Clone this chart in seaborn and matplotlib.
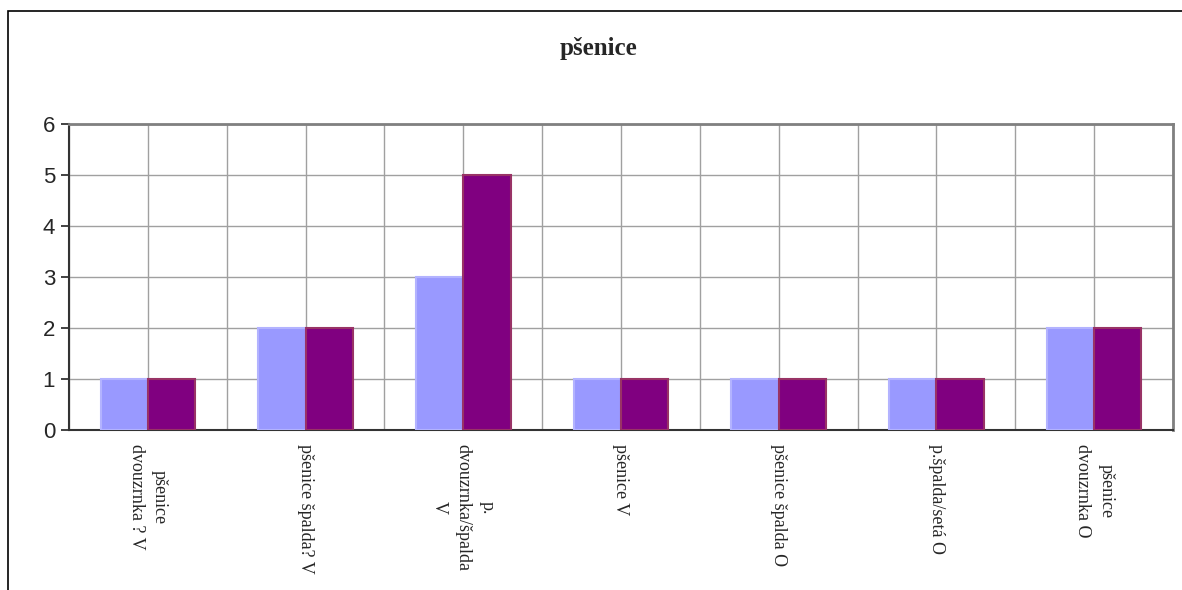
import matplotlib
matplotlib.use("Agg")
import matplotlib.pyplot as plt
from matplotlib.patches import Rectangle
from matplotlib.ticker import FixedLocator
import seaborn as sns
import pandas as pd

categories = [
    "pšenice\ndvouzrnka ? V",
    "pšenice špalda? V",
    "p.\ndvouzrnka/špalda\nV",
    "pšenice V",
    "pšenice špalda O",
    "p.špalda/setá O",
    "pšenice\ndvouzrnka O",
]
series_names = ["A", "B"]
series_a = [1, 2, 3, 1, 1, 1, 2]
series_b = [1, 2, 5, 1, 1, 1, 2]
y_ticks = [0, 1, 2, 3, 4, 5, 6]

df = pd.DataFrame({
    "cat": categories * 2,
    "series": [series_names[0]] * len(categories) + [series_names[1]] * len(categories),
    "value": series_a + series_b,
})

sns.set_style("white")
fig = plt.figure(figsize=(11.82, 5.9), dpi=100)
ax = fig.add_axes([69 / 1182, 1 - 430 / 590, (1173 - 69) / 1182, (430 - 124) / 590])

fills = {"A": "#9999FF", "B": "#800080"}
edges = {"A": "#B3B3FF", "B": "#993366"}
sns.barplot(data=df, x="cat", y="value", hue="series", order=categories,
            hue_order=series_names, palette=fills, width=0.6, gap=0,
            saturation=1, legend=False, ax=ax, zorder=3)
for cont, name in zip(ax.containers, series_names):
    for bar in cont:
        bar.set_edgecolor(edges[name])
        bar.set_linewidth(1.5)

ax.set_xlim(-0.5, len(categories) - 0.5)
ax.set_ylim(0, 6)
ax.set_yticks(y_ticks)
ax.set_yticklabels([str(t) for t in y_ticks], fontsize=16, family="Liberation Sans")
ax.set_xlabel("")
ax.set_ylabel("")

ax.set_xticks(range(len(categories)))
ax.set_xticklabels(categories, rotation=270, ha="center", va="top",
                   fontsize=13, family="Liberation Serif", multialignment="center",
                   linespacing=1.5)
ax.xaxis.set_minor_locator(FixedLocator([i - 0.5 for i in range(len(categories) + 1)]))
ax.tick_params(axis="x", which="major", length=0, pad=10)
ax.tick_params(axis="x", which="minor", length=6, width=1.2, color="#222222", direction="out")
ax.tick_params(axis="y", which="major", length=6, width=1.2, color="#222222", direction="out", pad=4,
               left=True)

ax.grid(True, axis="x", which="both", color="#a0a0a0", linewidth=1, zorder=0)
ax.grid(True, axis="y", which="major", color="#a0a0a0", linewidth=1, zorder=0)
ax.set_axisbelow(True)

for side in ["left", "bottom"]:
    ax.spines[side].set_visible(True)
    ax.spines[side].set_color("#333333")
    ax.spines[side].set_linewidth(1.5)
for side in ["top", "right"]:
    ax.spines[side].set_visible(True)
    ax.spines[side].set_color("#808080")
    ax.spines[side].set_linewidth(2)

fig.text(598 / 1182, 1 - 48 / 590, "pšenice", ha="center", va="center",
         fontsize=18, fontweight="bold", family="Liberation Serif")

fig.patches.append(Rectangle((8 / 1182, -0.2), 1.2, (1 - 11 / 590) + 0.2,
                             transform=fig.transFigure, fill=False,
                             edgecolor="#000000", linewidth=1.2))

fig.savefig("out.png", dpi=100, facecolor="white")
